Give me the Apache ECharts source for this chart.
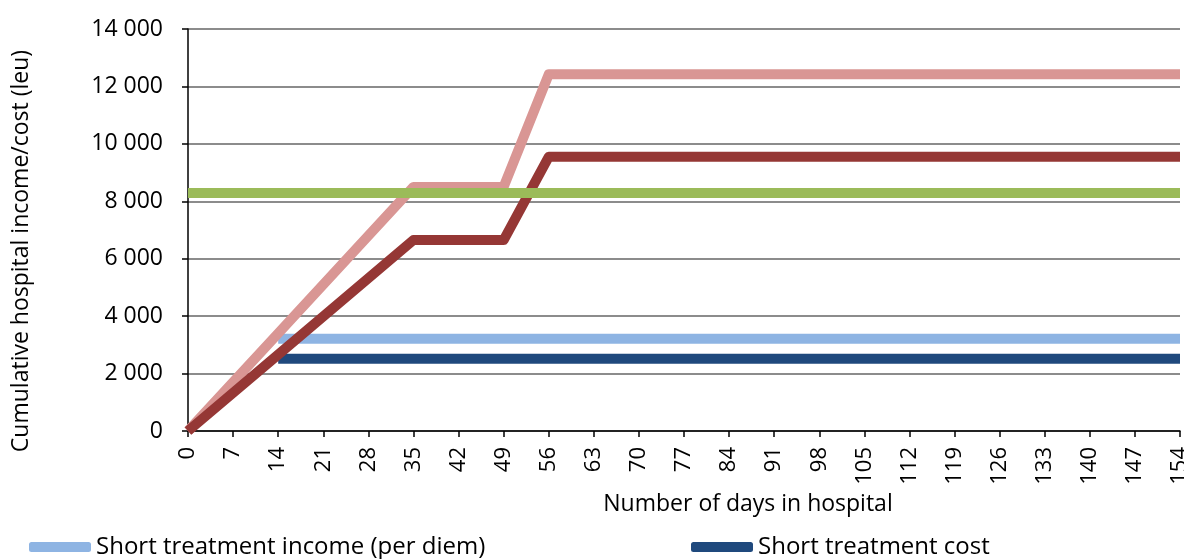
<!DOCTYPE html>
<html>
<head>
<meta charset="utf-8">
<title>Cumulative hospital income/cost</title>
<script src="https://cdn.jsdelivr.net/npm/echarts@6/dist/echarts.min.js"></script>
<style>
  html, body { margin: 0; padding: 0; background: #fff; }
  #main { width: 1184px; height: 559px; }
</style>
</head>
<body>
<div id="main"></div>
<script>
// breakpoints (days) where the lines change slope
var days = [0, 14, 35, 49, 56, 154];

// short treatment lines only show from day 14 on
var shortIncome = [null, 3210, 3210, 3210, 3210, 3210];
var shortCost = [null, 2520, 2520, 2520, 2520, 2520];
var longIncome = [0, 3400, 8500, 8500, 12420, 12420];
var longCost = [0, 2660, 6650, 6650, 9550, 9550];
var drgIncome = [8290, 8290, 8290, 8290, 8290, 8290];

var seriesNames = [
  'Short treatment income (per diem)',
  'Short treatment cost',
  'Long treatment income (per diem)',
  'Long treatment cost',
  'DRG income'
];
var colors = ['#8eb4e3', '#1f497d', '#d99694', '#953735', '#9bbb59'];

var FONT = '"Open Sans", sans-serif';

function pairs(vals) {
  return days.map(function (d, i) { return [d, vals[i]]; });
}

function makeLine(name, vals, color) {
  return {
    name: name,
    type: 'line',
    data: pairs(vals),
    symbol: 'none',
    lineStyle: { width: 10, color: color, join: 'round' },
    itemStyle: { color: color }
  };
}

var myChart = echarts.init(document.getElementById('main'));

var legendText = { fontFamily: FONT, fontSize: 24, color: '#000' };

var option = {
  animation: false,
  textStyle: { fontFamily: FONT, color: '#000' },
  grid: { left: 188, right: 4, top: 29, bottom: 128, containLabel: false, outerBoundsMode: 'none' },
  legend: [
    {
      left: 24, top: 530,
      data: [seriesNames[0]],
      itemWidth: 62, itemHeight: 10, icon: 'roundRect',
      textStyle: legendText
    },
    {
      left: 686, top: 530,
      data: [seriesNames[1]],
      itemWidth: 62, itemHeight: 10, icon: 'roundRect',
      textStyle: legendText
    }
  ],
  xAxis: {
    type: 'value',
    min: 0, max: 154, interval: 7,
    name: 'Number of days in hospital',
    nameLocation: 'middle',
    nameGap: 62,
    nameTextStyle: { fontFamily: FONT, fontSize: 23, color: '#000', padding: [0, 0, 0, 128] },
    axisLine: { onZero: false, lineStyle: { color: '#000', width: 1.5 } },
    axisTick: { show: true, length: 6, lineStyle: { color: '#000', width: 1.5 } },
    axisLabel: { rotate: 90, margin: 16, fontSize: 22, color: '#000', fontFamily: FONT, showMaxLabel: true },
    splitLine: { show: false }
  },
  yAxis: {
    type: 'value',
    min: 0, max: 14000, interval: 2000,
    name: 'Cumulative hospital income/cost (leu)',
    nameLocation: 'middle',
    nameGap: 155,
    nameTextStyle: { fontFamily: FONT, fontSize: 23, color: '#000', padding: [0, 42, 0, 0] },
    axisLine: { show: true, lineStyle: { color: '#000', width: 1.5 } },
    axisTick: { show: true, length: 6, lineStyle: { color: '#000', width: 1.5 } },
    axisLabel: {
      margin: 25, fontSize: 23, color: '#000', fontFamily: FONT,
      formatter: function (v) {
        return String(v).replace(/\B(?=(\d{3})+(?!\d))/g, ' ');
      }
    },
    splitLine: { show: true, lineStyle: { color: '#8c8c8c', width: 2 } }
  },
  series: [
    makeLine(seriesNames[0], shortIncome, colors[0]),
    makeLine(seriesNames[1], shortCost, colors[1]),
    makeLine(seriesNames[2], longIncome, colors[2]),
    makeLine(seriesNames[3], longCost, colors[3]),
    makeLine(seriesNames[4], drgIncome, colors[4])
  ]
};

myChart.setOption(option);
</script>
</body>
</html>
